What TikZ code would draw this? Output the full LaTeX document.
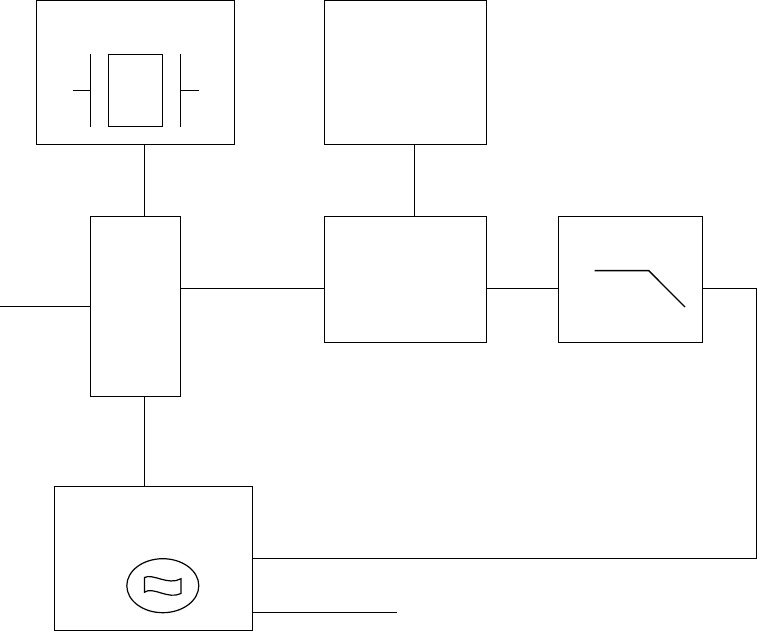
\documentclass[tikz,border=0pt]{standalone}
\usetikzlibrary{calc}
\tikzset{
  blockbox/.style={draw, inner sep=0pt, outer sep=0pt, anchor=north west},
}

\begin{document}
\begin{tikzpicture}[x=1pt, y=-1pt, line width=1pt]
  \useasboundingbox (0,0) rectangle (757,631);

  \node[blockbox, minimum width=198pt, minimum height=144pt] (crystal) at (36.5,0.5) {};
  \node[blockbox, minimum width=162pt, minimum height=144pt] (upper) at (324.5,0.5) {};
  \node[blockbox, minimum width=90pt, minimum height=180pt] (mixer) at (90.5,216.5) {};
  \node[blockbox, minimum width=162pt, minimum height=126pt] (middle) at (324.5,216.5) {};
  \node[blockbox, minimum width=144pt, minimum height=126pt] (filter) at (558.5,216.5) {};
  \node[blockbox, minimum width=198pt, minimum height=144pt] (osc) at (54.5,486.5) {};

  \coordinate (input) at (0,306.5);
  \coordinate (output) at (396.5,612.5);
  \coordinate (mainline) at (144.5,288.5);
  \coordinate (upline) at (414.5,288.5);
  \coordinate (cornerA) at (756.5,288.5);
  \coordinate (cornerB) at (756.5,558.5);

  \draw (crystal.south -| mainline) -- (mixer.north -| mainline);
  \draw (upper.south -| upline) -- (middle.north -| upline);
  \draw (input) -- (input -| mixer.west);
  \draw (mixer.east |- mainline) -- (middle.west |- mainline);
  \draw (middle.east |- mainline) -- (filter.west |- mainline);
  \draw (mixer.south -| mainline) -- (osc.north -| mainline);
  \draw (filter.east |- mainline) -- (cornerA) -- (cornerB) -- (osc.east |- cornerB);
  \draw (osc.east |- output) -- (output);

  % crystal symbol
  \draw (108.5,54.5) rectangle (162.5,126.5);
  \draw[line width=1.3pt] (90.7,54) -- (90.7,127);
  \draw[line width=1.3pt] (180.3,54) -- (180.3,127);
  \draw[line width=1.2pt] (72.5,90.3) -- (90.5,90.3);
  \draw[line width=1.2pt] (180.5,90.3) -- (199,90.3);

  % filter curve
  \draw[line width=1.3pt] (594.5,270.6) -- (648.7,270.6) -- (685,307);

  % oscillator symbol
  \draw[line width=1.2pt] (162.8,585.7) ellipse (36 and 27);
  \draw[line width=1.2pt] (144.5,577.5) .. controls (153,573) and (168,586) .. (181,578.7)
    -- (181,593.5) .. controls (168,600) and (153,586) .. (144.5,592.2) -- cycle;
\end{tikzpicture}
\end{document}
